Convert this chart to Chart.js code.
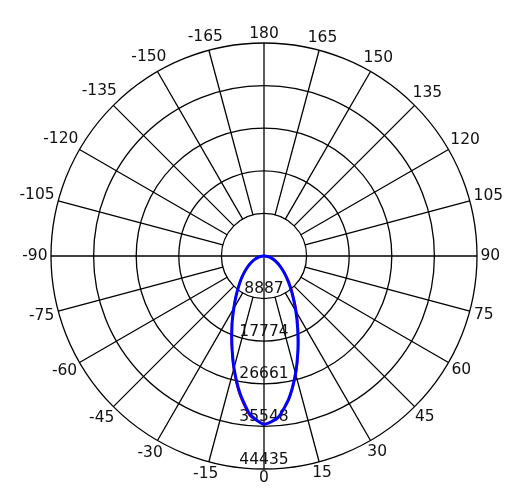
<!DOCTYPE html>
<html>
<head>
<meta charset="utf-8">
<script src="https://cdn.jsdelivr.net/npm/chart.js@4.4.1/dist/chart.umd.min.js"></script>
<style>
  body { margin: 0; background: #fff; }
  canvas { display: block; }
</style>
</head>
<body>
<canvas id="polar" width="518" height="496"></canvas>
<script>
// angles of the front half (degrees), 0 = straight down
const frontAngles = [-90, -85, -80, -75, -70, -65, -60, -55, -50, -45, -40, -35, -30, -25, -20, -15, -10, -5,
    0, 5, 10, 15, 20, 25, 30, 35, 40, 45, 50, 55, 60, 65, 70, 75, 80, 85, 90];

// blue curve (cd)
const blueValues = [0, 470, 960, 1480, 2050, 2700, 3450, 4350, 5400, 6700, 8200, 10150, 12600, 15800, 19600, 24200, 29000, 33200,
    35100, 33800, 30100, 25400, 20700, 16600, 13300, 10600, 8550, 6900, 5550, 4450, 3550, 2780, 2120, 1530, 990, 490, 0];

// red curve (cd)
const redValues = [0, 475, 970, 1495, 2070, 2730, 3490, 4400, 5460, 6770, 8250, 10200, 12700, 15900, 19750, 24400, 29300, 33500,
    35000, 33850, 30250, 25600, 20900, 16850, 13550, 10900, 8850, 7150, 5750, 4620, 3680, 2880, 2180, 1570, 1010, 500, 0];

// all directions around the circle, clockwise from the top
const allAngles = [180, 175, 170, 165, 160, 155, 150, 145, 140, 135, 130, 125, 120, 115, 110, 105, 100, 95,
    90, 85, 80, 75, 70, 65, 60, 55, 50, 45, 40, 35, 30, 25, 20, 15, 10, 5,
    0, -5, -10, -15, -20, -25, -30, -35, -40, -45, -50, -55, -60, -65, -70, -75, -80, -85,
    -90, -95, -100, -105, -110, -115, -120, -125, -130, -135, -140, -145, -150, -155, -160, -165, -170, -175];

// angle labels shown on the rim
const rimLabels = [180, 165, 150, 135, 120, 105, 90, 75, 60, 45, 30, 15, 0, -15, -30, -45, -60, -75, -90, -105, -120, -135, -150, -165];

// ring values
const ringValues = [8887, 17774, 26661, 35548, 44435];

const FONT = '15.5px "DejaVu Sans", Verdana, sans-serif';

function toFull(values) {
    return allAngles.map(a => {
        const i = frontAngles.indexOf(a);
        return i === -1 ? 0 : values[i];
    });
}

const polarGrid = {
    id: 'polarGrid',
    beforeDatasetsDraw(chart) {
        const scale = chart.scales.r;
        const ctx = chart.ctx;
        const maxV = ringValues[ringValues.length - 1];
        ctx.save();
        ctx.strokeStyle = '#000';
        ctx.lineWidth = 1.3;

        // spokes
        rimLabels.forEach(a => {
            const idx = allAngles.indexOf(a);
            const full = (a % 90 === 0);
            const p0 = full ? scale.getPointPositionForValue(idx, 0) : scale.getPointPositionForValue(idx, ringValues[0]);
            const p1 = scale.getPointPositionForValue(idx, maxV);
            ctx.beginPath();
            ctx.moveTo(p0.x, p0.y);
            ctx.lineTo(p1.x, p1.y);
            ctx.stroke();
        });

        ctx.font = FONT;
        ctx.fillStyle = '#111';
        ctx.textAlign = 'center';
        ctx.textBaseline = 'middle';

        // rim labels
        rimLabels.forEach(a => {
            const idx = allAngles.indexOf(a);
            const txt = String(a);
            const hw = ctx.measureText(txt).width / 2;
            const hh = 5.7;
            const rad = a * Math.PI / 180;
            const extent = Math.abs(Math.sin(rad)) * hw + Math.abs(Math.cos(rad)) * hh;
            const p = scale.getPointPosition(idx, scale.drawingArea + 3.5 + extent);
            ctx.fillText(txt, p.x, p.y);
        });

        // ring value labels along the 0 direction
        const downIdx = allAngles.indexOf(0);
        ringValues.forEach(v => {
            const p = scale.getPointPositionForValue(downIdx, v);
            ctx.fillText(String(v), p.x, p.y - 9.5);
        });
        ctx.restore();
    }
};

new Chart(document.getElementById('polar'), {
    type: 'radar',
    data: {
        labels: allAngles,
        datasets: [{
            label: 'blue',
            data: toFull(blueValues),
            borderColor: '#0000ff',
            borderWidth: 3,
            backgroundColor: 'rgba(0,0,0,0)',
            fill: false,
            pointRadius: 0,
            tension: 0.2
        }, {
            label: 'red',
            data: toFull(redValues),
            borderColor: '#ff0000',
            borderWidth: 2,
            backgroundColor: 'rgba(0,0,0,0)',
            fill: false,
            pointRadius: 0,
            tension: 0.2
        }]
    },
    options: {
        responsive: false,
        animation: false,
        devicePixelRatio: 1,
        layout: { padding: { left: 51, right: 40, top: 43, bottom: 27 } },
        plugins: {
            legend: { display: false },
            tooltip: { enabled: false }
        },
        scales: {
            r: {
                min: 0,
                max: 44435,
                startAngle: 0,
                ticks: { display: false, stepSize: 8887 },
                grid: { circular: true, color: '#000', lineWidth: 1.3 },
                angleLines: { display: false },
                pointLabels: { display: false }
            }
        }
    },
    plugins: [polarGrid]
});
</script>
</body>
</html>
